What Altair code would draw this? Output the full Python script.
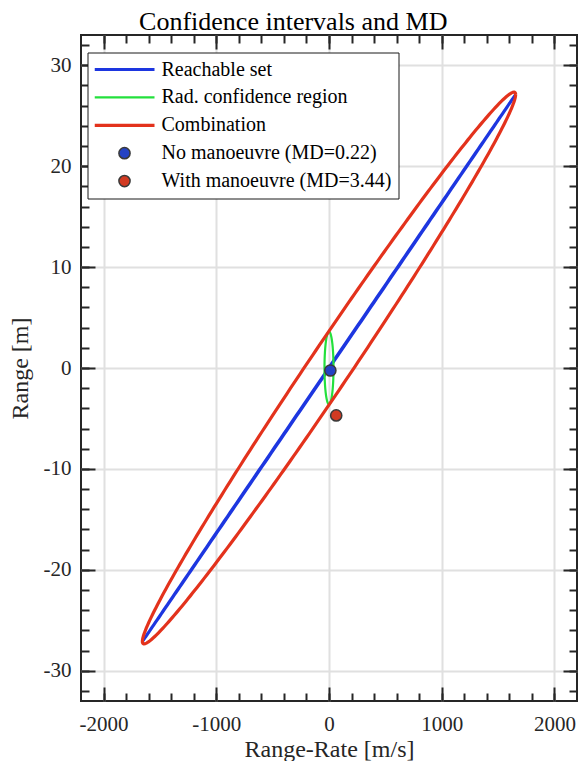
import numpy as np
import pandas as pd
import altair as alt

# ---------------- values ----------------
line_labels = ["Reachable set", "Rad. confidence region", "Combination"]
point_labels = ["No manoeuvre (MD=0.22)", "With manoeuvre (MD=3.44)"]

# 1-sigma ellipse parameters (x: range-rate [m/s], y: range [m])
reach_sigma = [1655.0, 27.1]
reach_rho = 0.999998
radar_sigma = [40.0, 3.6]
radar_rho = 0.0

point_x = [12.0, 64.0]
point_y = [-0.25, -4.7]

x_major = [-2000, -1000, 0, 1000, 2000]
x_minor = list(range(-2000, 2001, 200))
y_major = [-30, -20, -10, 0, 10, 20, 30]
y_minor = list(range(-32, 33, 2))
x_domain = [-2200, 2200]
y_domain = [-33, 33]

stroke_colors = ["#1d36e0", "#23e03c", "#e3321c", "#3a3a3a", "#3a3a3a"]
fill_colors = ["#1d36e0", "#23e03c", "#e3321c", "#2442c4", "#d23a22"]
stroke_widths = [3.0, 2.2, 3.2, 1.5, 1.5]
shapes = ["stroke", "stroke", "stroke", "circle", "circle"]
sizes = [3600, 3600, 3600, 125, 125]

FONT = "Liberation Serif"
INK = "#262626"

# ---------------- build ellipse tables ----------------
def ellipse(label, sx, sy, rho, n=361):
    t = np.linspace(0, 2 * np.pi, n)
    x = sx * np.cos(t)
    y = sy * (rho * np.cos(t) + np.sqrt(max(0.0, 1 - rho ** 2)) * np.sin(t))
    return pd.DataFrame({"series": label, "x": x, "y": y, "k": np.arange(n)})

cxx = reach_sigma[0] ** 2 + radar_sigma[0] ** 2
cyy = reach_sigma[1] ** 2 + radar_sigma[1] ** 2
cxy = reach_rho * reach_sigma[0] * reach_sigma[1] + radar_rho * radar_sigma[0] * radar_sigma[1]
comb_sx, comb_sy = np.sqrt(cxx), np.sqrt(cyy)
comb_rho = cxy / (comb_sx * comb_sy)

lines = pd.concat([
    ellipse(line_labels[0], reach_sigma[0], reach_sigma[1], reach_rho),
    ellipse(line_labels[1], radar_sigma[0], radar_sigma[1], radar_rho),
    ellipse(line_labels[2], comb_sx, comb_sy, comb_rho),
])
points = pd.DataFrame({"series": point_labels, "x": point_x, "y": point_y})

all_labels = line_labels + point_labels
stroke_scale = alt.Scale(type="ordinal", domain=all_labels, range=stroke_colors)
fill_scale = alt.Scale(type="ordinal", domain=all_labels, range=fill_colors)
sw_scale = alt.Scale(type="ordinal", domain=all_labels, range=stroke_widths)
shape_scale = alt.Scale(type="ordinal", domain=all_labels, range=shapes)
size_scale = alt.Scale(type="ordinal", domain=all_labels, range=sizes)

legend = alt.Legend(
    title=None, orient="none", legendX=6.5, legendY=17.5, columns=1,
    padding=7, symbolOffset=-2, labelOffset=5, clipHeight=20,
    rowPadding=7.9, labelFont=FONT, labelFontSize=20, labelColor="black",
    labelLimit=0, fillColor="white", strokeColor="#1a1a1a", cornerRadius=0,
    symbolOpacity=1,
)

lab = "'' + datum.value"
x_main = alt.Axis(orient="bottom", values=x_major, labelExpr=lab, ticks=False, tickSize=0,
                  domain=False, grid=True, gridColor="#e0e0e0", gridWidth=2,
                  labelFont=FONT, labelFontSize=21, labelColor=INK, labelPadding=12,
                  title="Range-Rate [m/s]", titleFont=FONT, titleFontSize=24,
                  titleFontWeight="normal", titleColor=INK, titlePadding=3)
y_main = alt.Axis(orient="left", values=y_major, labelExpr=lab, ticks=False, tickSize=0,
                  domain=False, grid=True, gridColor="#e0e0e0", gridWidth=2,
                  labelFont=FONT, labelFontSize=21, labelColor=INK, labelPadding=10,
                  title="Range [m]", titleFont=FONT, titleFontSize=24,
                  titleFontWeight="normal", titleColor=INK, titlePadding=10.5)

def tick_axis(orient, vals, size):
    return alt.Axis(orient=orient, values=vals, labels=False, ticks=True, tickSize=size,
                    tickWidth=2, tickColor=INK, offset=-size, domain=False, grid=False,
                    title=None)

xs = alt.Scale(domain=x_domain, nice=False, zero=False)
ys = alt.Scale(domain=y_domain, nice=False, zero=False)

line_layer = alt.Chart(lines).mark_line().encode(
    x=alt.X("x:Q", scale=xs, axis=x_main),
    y=alt.Y("y:Q", scale=ys, axis=y_main),
    stroke=alt.Stroke("series:N", scale=stroke_scale, legend=legend, sort=all_labels),
    strokeWidth=alt.StrokeWidth("series:N", scale=sw_scale, legend=legend),
    detail="series:N",
    order="k:Q",
)

point_layer = alt.Chart(points).mark_point(filled=True, opacity=1).encode(
    x=alt.X("x:Q", axis=None),
    y=alt.Y("y:Q", axis=None),
    fill=alt.Fill("series:N", scale=fill_scale, legend=legend),
    stroke=alt.Stroke("series:N", scale=stroke_scale, legend=legend),
    strokeWidth=alt.StrokeWidth("series:N", scale=sw_scale, legend=legend),
    shape=alt.Shape("series:N", scale=shape_scale, legend=legend),
    size=alt.Size("series:N", scale=size_scale, legend=legend),
)

def tick_layer(xo, yo, xv, yv, size):
    return alt.Chart(points).mark_point(opacity=0).encode(
        x=alt.X("x:Q", axis=tick_axis(xo, xv, size)),
        y=alt.Y("y:Q", axis=tick_axis(yo, yv, size)),
    )

chart = alt.layer(
    line_layer,
    point_layer,
    tick_layer("bottom", "left", x_major, y_major, 14),
    tick_layer("bottom", "left", x_minor, y_minor, 8),
    tick_layer("top", "right", x_major, y_major, 14),
    tick_layer("top", "right", x_minor, y_minor, 8),
).resolve_axis(x="independent", y="independent").properties(
    width=496, height=666,
    padding={"left": 0, "top": 0, "right": 0, "bottom": 0},
    title=alt.Title("Confidence intervals and MD", font=FONT, fontSize=26,
                    fontWeight="normal", color="black", offset=-0.7,
                    anchor="middle", frame="bounds"),
).configure_view(stroke=INK, strokeWidth=2)

chart.save("out.html", embed_options={"renderer": "svg", "actions": False})
